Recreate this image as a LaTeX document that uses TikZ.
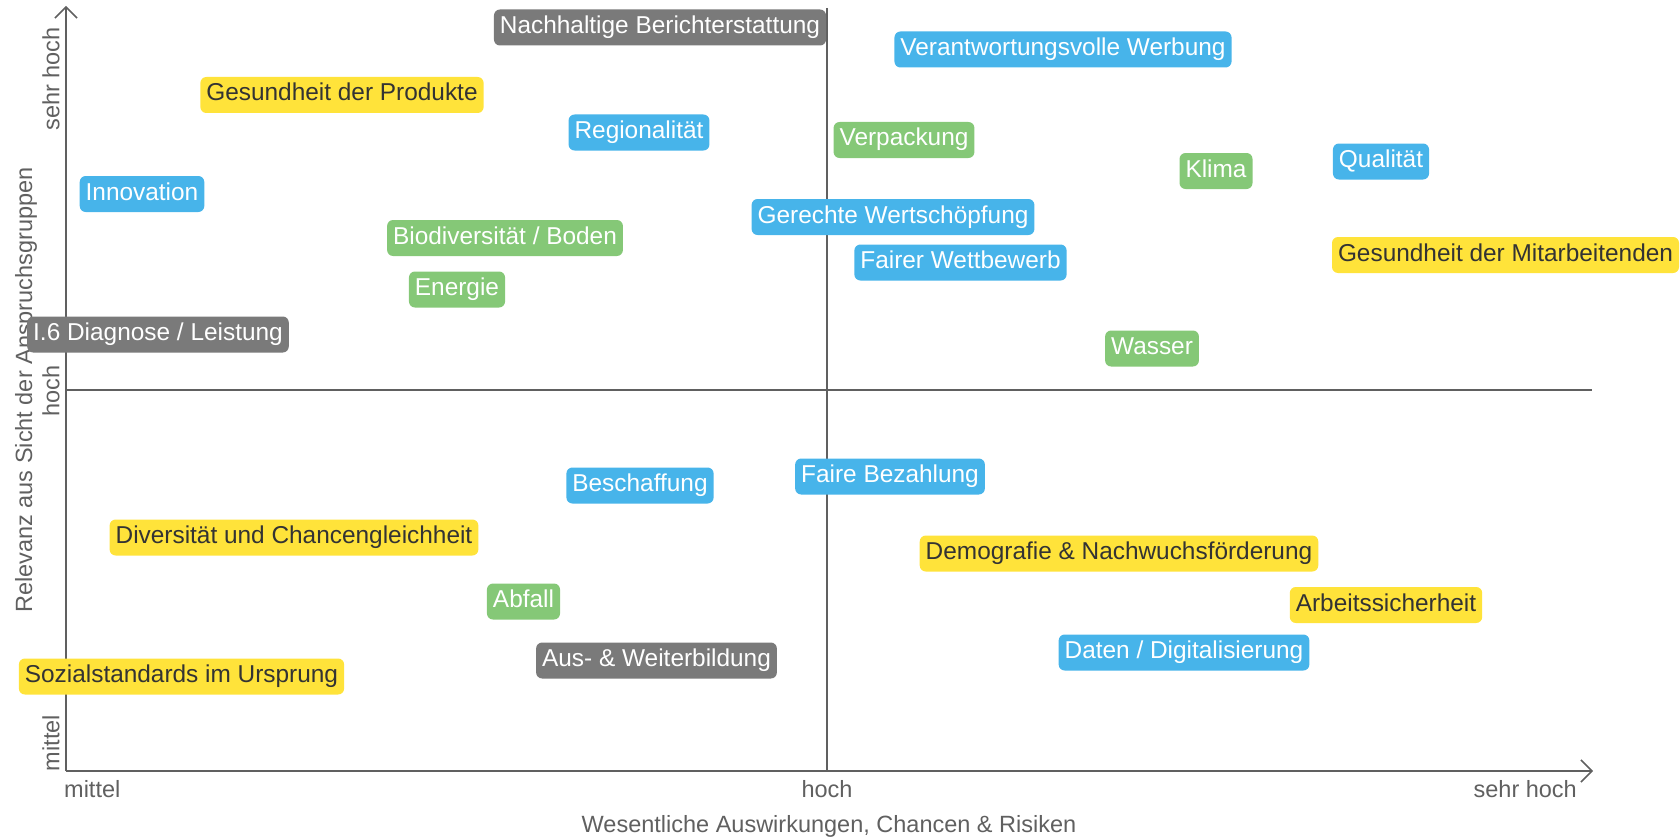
\documentclass[tikz,border=0pt]{standalone}
\usepackage{fontspec}
\setmainfont{Liberation Sans}
\usetikzlibrary{arrows.meta}

\definecolor{axisgray}{HTML}{606060}
\definecolor{topicblue}{HTML}{47B4EA}
\definecolor{topicgreen}{HTML}{85C877}
\definecolor{topicyellow}{HTML}{FFE33A}
\definecolor{topicgray}{HTML}{7A7A7A}
\definecolor{darktext}{HTML}{333333}

\newcommand{\boxfont}{\fontsize{24.4}{28}\selectfont}
\newcommand{\axisfont}{\fontsize{23.5}{28}\selectfont}

\begin{document}
\begin{tikzpicture}[x=1pt, y=-1pt,
  topic/.style={rounded corners=6pt, inner xsep=6pt, inner ysep=7pt,
    text height=17pt, text depth=5pt, font=\boxfont},
  bluebox/.style={topic, fill=topicblue, text=white},
  greenbox/.style={topic, fill=topicgreen, text=white},
  yellowbox/.style={topic, fill=topicyellow, text=darktext},
  graybox/.style={topic, fill=topicgray, text=white},
  axislabel/.style={font=\axisfont, text=axisgray, inner sep=0pt}]
% Set the canvas size
\useasboundingbox (0, 0) rectangle (1680, 840);

% Draw the axes and the middle lines
\coordinate (origin) at (66, 771);
\coordinate (ytop) at (66, 6);
\coordinate (xend) at (1593, 771);
\coordinate (midtop) at (827, 8);
\coordinate (midbottom) at (827, 771);
\coordinate (midleft) at (66, 390);
\coordinate (midright) at (1592, 390);
\draw[axisgray, line width=1.5pt] (midtop) -- (midbottom);
\draw[axisgray, line width=1.5pt] (midleft) -- (midright);
\draw[axisgray, line width=1.5pt, -{Straight Barb[length=11pt, width=22pt]}] (origin) -- (ytop);
\draw[axisgray, line width=1.5pt, -{Straight Barb[length=11pt, width=22pt]}] (origin) -- (xend);

% Axis labels
\node[axislabel, anchor=west] (xlow) at (64, 789) {mittel};
\node[axislabel] (xmid) at (827, 789) {hoch};
\node[axislabel, anchor=east] (xhigh) at (1577, 789) {sehr hoch};
\node[axislabel] (xtitle) at (829, 826) {Wesentliche Auswirkungen, Chancen \& Risiken};
\node[axislabel, rotate=90] (ylow) at (51, 743) {mittel};
\node[axislabel, rotate=90] (ymid) at (51, 391) {hoch};
\node[axislabel, rotate=90] (yhigh) at (51, 79) {sehr hoch};
\node[axislabel, rotate=90] (ytitle) at (26, 390) {Relevanz aus Sicht der Anspruchsgruppen};

% Upper half
\node[graybox] (bericht) at (660, 27.5) {Nachhaltige Berichterstattung};
\node[bluebox] (werbung) at (1063, 49.5) {Verantwortungsvolle Werbung};
\node[yellowbox] (produkte) at (342, 95) {Gesundheit der Produkte};
\node[bluebox] (region) at (639, 132.5) {Regionalität};
\node[greenbox] (verpackung) at (904, 140) {Verpackung};
\node[greenbox] (klima) at (1216, 171) {Klima};
\node[bluebox] (qualitaet) at (1381, 161.5) {Qualität};
\node[bluebox] (innovation) at (142, 194) {Innovation};
\node[bluebox] (wertschoepfung) at (893, 217) {Gerechte Wertschöpfung};
\node[greenbox] (biodiv) at (505, 238) {Biodiversität / Boden};
\node[bluebox] (wettbewerb) at (960.5, 262.5) {Fairer Wettbewerb};
\node[yellowbox] (mitarbeitende) at (1505.5, 255) {Gesundheit der Mitarbeitenden};
\node[greenbox] (energie) at (457, 289.5) {Energie};
\node[graybox] (diagnose) at (158, 334.5) {I.6 Diagnose / Leistung};
\node[greenbox] (wasser) at (1152, 348.5) {Wasser};

% Lower half
\node[bluebox] (beschaffung) at (640, 485.5) {Beschaffung};
\node[bluebox] (bezahlung) at (890, 476.5) {Faire Bezahlung};
\node[yellowbox] (diversitaet) at (294, 537.5) {Diversität und Chancengleichheit};
\node[yellowbox] (demografie) at (1119, 553.5) {Demografie \& Nachwuchsförderung};
\node[greenbox] (abfall) at (523.5, 601.5) {Abfall};
\node[yellowbox] (sicherheit) at (1386, 605) {Arbeitssicherheit};
\node[graybox] (bildung) at (656.5, 660.5) {Aus- \& Weiterbildung};
\node[bluebox] (daten) at (1184, 652.5) {Daten / Digitalisierung};
\node[yellowbox] (sozial) at (181.5, 676.5) {Sozialstandards im Ursprung};
\end{tikzpicture}
\end{document}
